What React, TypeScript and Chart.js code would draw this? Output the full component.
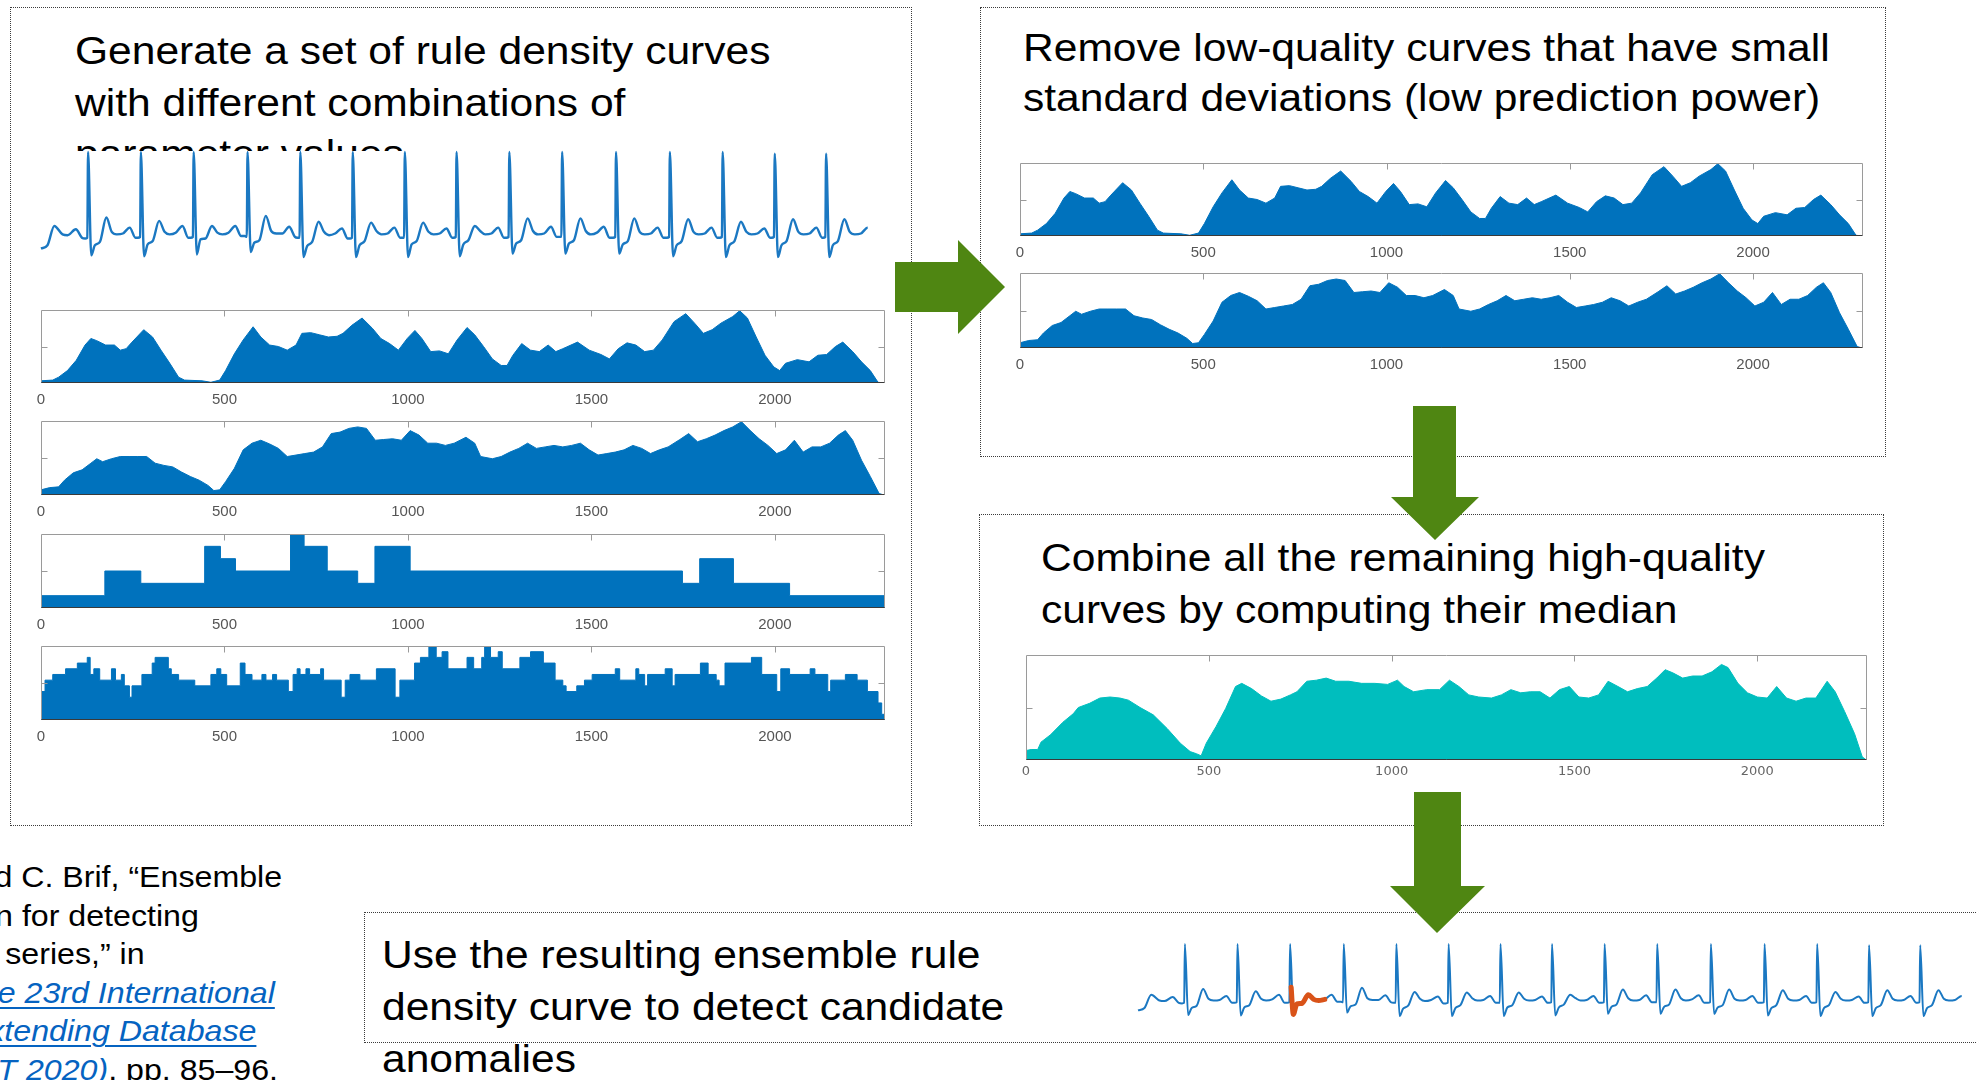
import React, { useEffect, useRef } from "react";
import { Chart, registerables } from "chart.js";

Chart.register(...registerables);

const FONT = '"Liberation Sans", Arial, Helvetica, sans-serif';
const X_MAX = 2300;
const X_TICKS = [0, 500, 1000, 1500, 2000];

// Rule density curve A (top row, also kept after filtering)
const CURVE_A_X = [0, 32, 48, 72, 96, 120, 136, 152, 176, 200, 216, 232, 248, 280, 304, 327, 351, 375, 391, 439, 463, 487, 503, 527, 551, 578, 599, 623, 647, 671, 695, 711, 735, 759, 783, 807, 823, 847, 875, 903, 926, 950, 974, 998, 1019, 1038, 1062, 1086, 1110, 1134, 1161, 1182, 1206, 1230, 1254, 1270, 1286, 1310, 1334, 1358, 1382, 1403, 1422, 1462, 1494, 1526, 1549, 1573, 1597, 1621, 1645, 1669, 1693, 1725, 1757, 1781, 1805, 1829, 1853, 1885, 1904, 1925, 1949, 1973, 1997, 2013, 2029, 2061, 2093, 2117, 2141, 2165, 2185, 2212, 2236, 2260, 2281, 2297];
const CURVE_A_Y = [0.03, 0.04, 0.08, 0.17, 0.31, 0.52, 0.61, 0.58, 0.52, 0.52, 0.45, 0.47, 0.56, 0.73, 0.63, 0.45, 0.27, 0.08, 0.04, 0.03, 0.01, 0.04, 0.17, 0.4, 0.59, 0.77, 0.63, 0.52, 0.5, 0.45, 0.52, 0.68, 0.69, 0.66, 0.63, 0.64, 0.68, 0.79, 0.89, 0.75, 0.61, 0.54, 0.45, 0.61, 0.72, 0.61, 0.43, 0.44, 0.4, 0.59, 0.76, 0.66, 0.5, 0.33, 0.24, 0.24, 0.38, 0.54, 0.45, 0.43, 0.52, 0.43, 0.47, 0.56, 0.45, 0.39, 0.33, 0.47, 0.55, 0.52, 0.43, 0.45, 0.59, 0.84, 0.95, 0.82, 0.68, 0.73, 0.82, 0.91, 0.99, 0.89, 0.63, 0.38, 0.22, 0.17, 0.27, 0.32, 0.29, 0.38, 0.39, 0.5, 0.56, 0.43, 0.29, 0.17, 0.01, 0];

// Rule density curve B (second row, also kept after filtering)
const CURVE_B_X = [0, 24, 48, 64, 88, 112, 136, 152, 168, 192, 216, 240, 264, 288, 311, 335, 359, 383, 407, 431, 455, 471, 487, 503, 527, 551, 575, 599, 623, 647, 671, 695, 719, 743, 767, 791, 815, 839, 863, 887, 911, 934, 958, 982, 1006, 1030, 1054, 1078, 1102, 1126, 1158, 1182, 1198, 1230, 1254, 1278, 1302, 1326, 1350, 1374, 1398, 1422, 1446, 1470, 1494, 1518, 1542, 1565, 1589, 1613, 1637, 1661, 1685, 1709, 1741, 1765, 1789, 1813, 1837, 1861, 1885, 1909, 1933, 1957, 1981, 2005, 2029, 2053, 2077, 2101, 2125, 2149, 2173, 2192, 2212, 2236, 2260, 2284, 2297];
const CURVE_B_Y = [0.07, 0.1, 0.11, 0.2, 0.3, 0.34, 0.43, 0.49, 0.45, 0.49, 0.52, 0.52, 0.52, 0.52, 0.43, 0.4, 0.38, 0.31, 0.25, 0.2, 0.13, 0.06, 0.07, 0.18, 0.36, 0.61, 0.7, 0.74, 0.69, 0.63, 0.52, 0.54, 0.56, 0.58, 0.65, 0.83, 0.85, 0.9, 0.92, 0.9, 0.74, 0.75, 0.76, 0.74, 0.87, 0.81, 0.7, 0.7, 0.67, 0.7, 0.78, 0.7, 0.52, 0.49, 0.52, 0.58, 0.63, 0.7, 0.63, 0.65, 0.67, 0.65, 0.67, 0.7, 0.61, 0.54, 0.56, 0.58, 0.61, 0.67, 0.63, 0.56, 0.61, 0.65, 0.75, 0.83, 0.72, 0.76, 0.81, 0.87, 0.92, 0.99, 0.87, 0.76, 0.67, 0.56, 0.61, 0.74, 0.58, 0.65, 0.65, 0.7, 0.81, 0.87, 0.74, 0.47, 0.25, 0.02, 0];

// Rule density curve C (coarse, step-wise)
const CURVE_C_X = [0, 174, 272, 446, 489, 530, 680, 717, 780, 863, 910, 1006, 1748, 1795, 1887, 2040, 2300];
const CURVE_C_Y = [1, 3, 2, 5, 4, 3, 6, 5, 3, 2, 5, 3, 2, 4, 2, 1, 1];

// Rule density curve D (fine, step-wise)
const CURVE_D_X = [0, 11, 32, 67, 99, 126, 134, 144, 160, 192, 203, 219, 227, 241, 248, 275, 303, 311, 347, 355, 375, 419, 463, 479, 490, 506, 543, 556, 575, 602, 613, 631, 642, 674, 687, 698, 706, 722, 732, 762, 770, 818, 829, 842, 869, 914, 965, 978, 1018, 1034, 1057, 1077, 1093, 1109, 1161, 1179, 1201, 1209, 1225, 1246, 1257, 1305, 1334, 1369, 1401, 1422, 1431, 1460, 1481, 1502, 1565, 1577, 1621, 1629, 1645, 1653, 1701, 1720, 1728, 1797, 1818, 1840, 1848, 1864, 1936, 1964, 2005, 2016, 2040, 2096, 2109, 2144, 2152, 2192, 2224, 2252, 2281, 2291, 2300];
const CURVE_D_Y = [5, 7, 8, 9, 10, 11, 8, 9, 7, 9, 7, 8, 6, 4, 6, 8, 10, 11, 9, 8, 7, 6, 8, 9, 8, 6, 10, 8, 7, 8, 7, 8, 7, 5, 8, 9, 8, 9, 8, 9, 7, 4, 7, 8, 7, 9, 4, 7, 10, 11, 13, 11, 12, 9, 11, 9, 11, 13, 11, 12, 9, 11, 12, 10, 7, 6, 5, 6, 7, 8, 9, 7, 9, 8, 6, 8, 9, 6, 8, 10, 8, 7, 6, 10, 11, 8, 5, 9, 8, 9, 8, 5, 7, 8, 7, 5, 3, 1, 1];

// Ensemble (median) rule density curve
const MEDIAN_X = [0, 14, 32, 41, 67, 101, 129, 143, 174, 202, 230, 257, 280, 312, 348, 386, 422, 449, 466, 479, 493, 520, 546, 573, 590, 617, 644, 670, 697, 723, 741, 768, 794, 821, 847, 883, 918, 954, 989, 1016, 1034, 1060, 1096, 1131, 1158, 1184, 1211, 1238, 1273, 1300, 1326, 1353, 1379, 1406, 1433, 1459, 1486, 1512, 1539, 1566, 1592, 1619, 1645, 1672, 1699, 1725, 1748, 1769, 1796, 1823, 1849, 1876, 1902, 1920, 1947, 1973, 2000, 2027, 2053, 2080, 2106, 2133, 2160, 2191, 2213, 2239, 2266, 2287, 2298];
const MEDIAN_Y = [0.09, 0.1, 0.1, 0.17, 0.24, 0.36, 0.44, 0.5, 0.54, 0.59, 0.6, 0.59, 0.57, 0.5, 0.43, 0.3, 0.16, 0.08, 0.06, 0.04, 0.16, 0.32, 0.49, 0.7, 0.73, 0.68, 0.61, 0.56, 0.58, 0.62, 0.65, 0.75, 0.76, 0.78, 0.75, 0.75, 0.73, 0.73, 0.72, 0.76, 0.7, 0.65, 0.67, 0.67, 0.76, 0.7, 0.62, 0.6, 0.59, 0.62, 0.67, 0.64, 0.65, 0.65, 0.59, 0.67, 0.7, 0.6, 0.59, 0.62, 0.75, 0.7, 0.65, 0.68, 0.7, 0.78, 0.86, 0.83, 0.78, 0.8, 0.8, 0.84, 0.91, 0.88, 0.73, 0.64, 0.6, 0.59, 0.7, 0.59, 0.56, 0.59, 0.59, 0.75, 0.65, 0.46, 0.25, 0.03, 0];

// ECG recording: lead-in samples, then beats sampled at fixed offsets around each R peak
const ECG_LEAD_T = [0, 18, 37, 60, 74, 97, 114];
const ECG_LEAD_V = [-0.15, -0.11, 0.12, 0.02, 0.01, 0.08, -0.02];
const ECG_OFFSETS = [-8, -2, 0, 9, 19, 33, 51, 66, 80, 97, 116, 132];
const ECG_R_PEAKS = [131, 278, 425, 575, 722, 868, 1013, 1157, 1304, 1451, 1601, 1751, 1898, 2043, 2186];
const ECG_BEATS = [
  [-0.03, -0.02, 1.0, -0.23, -0.11, -0.07, 0.22, 0.05, 0.02, 0.03, 0.1, -0.02],
  [-0.02, -0.01, 1.0, -0.24, -0.1, -0.06, 0.18, 0.05, 0.02, 0.04, 0.12, -0.02],
  [-0.02, -0.01, 1.0, -0.22, -0.04, -0.03, 0.12, 0.04, 0.02, 0.04, 0.12, 0.0],
  [0.0, -0.01, 1.0, -0.19, -0.08, -0.05, 0.24, 0.06, 0.03, 0.03, 0.11, -0.01],
  [-0.02, -0.02, 1.0, -0.25, -0.12, -0.07, 0.17, 0.05, 0.01, 0.03, 0.09, -0.03],
  [-0.03, -0.02, 1.0, -0.25, -0.11, -0.06, 0.16, 0.06, 0.02, 0.03, 0.1, -0.02],
  [-0.02, -0.02, 1.0, -0.25, -0.1, -0.06, 0.16, 0.05, 0.02, 0.03, 0.09, -0.02],
  [-0.02, -0.01, 1.0, -0.24, -0.1, -0.05, 0.12, 0.06, 0.02, 0.03, 0.1, -0.02],
  [-0.02, -0.01, 1.0, -0.21, -0.09, -0.05, 0.21, 0.06, 0.02, 0.03, 0.11, -0.01],
  [-0.01, -0.01, 1.0, -0.21, -0.09, -0.05, 0.21, 0.06, 0.02, 0.04, 0.11, -0.02],
  [-0.02, -0.01, 1.0, -0.21, -0.1, -0.06, 0.21, 0.05, 0.02, 0.03, 0.1, -0.02],
  [-0.02, -0.01, 1.0, -0.24, -0.11, -0.06, 0.2, 0.05, 0.02, 0.03, 0.1, -0.02],
  [-0.02, -0.01, 1.0, -0.25, -0.11, -0.06, 0.17, 0.05, 0.02, 0.03, 0.09, -0.02],
  [-0.02, -0.01, 0.98, -0.25, -0.11, -0.06, 0.2, 0.05, 0.02, 0.03, 0.1, -0.02],
  [-0.02, -0.01, 0.98, -0.25, -0.11, -0.06, 0.2, 0.05, 0.02, 0.03, 0.1, -0.02],
];

// Candidate anomaly flagged by the ensemble curve
const ANOMALY_T = [428, 434, 444, 458, 476, 491, 505, 522];
const ANOMALY_V = [0.25, -0.22, -0.04, -0.03, 0.12, 0.04, 0.02, 0.04];

const BLUE = "#0072BD";
const TEAL = "#00BEBE";
const ECG_BLUE = "#1b78c2";
const ORANGE = "#D95319";
const GREEN = "#4F8612";

function toPoints(xs: number[], ys: number[]) {
  return xs.map((x, i) => ({ x, y: ys[i] }));
}

function ecgPoints() {
  const pts = toPoints(ECG_LEAD_T, ECG_LEAD_V);
  ECG_R_PEAKS.forEach((r, b) => {
    ECG_OFFSETS.forEach((o, k) => pts.push({ x: r + o, y: ECG_BEATS[b][k] }));
  });
  return pts;
}

// Box frame with inward ticks, drawn over the filled area
function framePlugin(tick: number) {
  return {
    id: "axesFrame",
    afterDatasetsDraw(chart: any) {
      const { ctx, chartArea: a } = chart;
      const xs = chart.scales.x;
      const ys = chart.scales.y;
      const L = Math.round(a.left) + 0.5;
      const R = Math.round(a.right) - 0.5;
      const T = Math.round(a.top) + 0.5;
      const B = Math.round(a.bottom) - 0.5;
      ctx.save();
      ctx.lineWidth = 1;
      ctx.strokeStyle = "#9a9a9a";
      ctx.beginPath();
      ctx.moveTo(L, B);
      ctx.lineTo(L, T);
      ctx.lineTo(R, T);
      ctx.lineTo(R, B);
      X_TICKS.forEach((v) => {
        if (v === 0) return;
        const px = Math.round(xs.getPixelForValue(v)) + 0.5;
        ctx.moveTo(px, T);
        ctx.lineTo(px, T + tick);
      });
      const my = Math.round(ys.getPixelForValue((ys.min + ys.max) / 2)) + 0.5;
      ctx.moveTo(L, my);
      ctx.lineTo(L + tick, my);
      ctx.moveTo(R, my);
      ctx.lineTo(R - tick, my);
      ctx.stroke();
      ctx.strokeStyle = "#3a3a3a";
      ctx.beginPath();
      ctx.moveTo(L, B);
      ctx.lineTo(R, B);
      ctx.stroke();
      ctx.restore();
    },
  };
}

type AreaProps = {
  left: number;
  top: number;
  width: number;
  height: number;
  xs: number[];
  ys: number[];
  yMax: number;
  color: string;
  stepped?: boolean;
  tickSize?: number;
  tickFamily?: string;
  tickColor?: string;
  labelPad?: number;
};

function AreaPlot(p: AreaProps) {
  const ref = useRef<HTMLCanvasElement>(null);
  const PL = 30;
  const PR = 24;
  const PT = 6;
  const LH = 30;
  useEffect(() => {
    const chart = new Chart(ref.current as HTMLCanvasElement, {
      type: "line",
      data: {
        datasets: [
          {
            data: toPoints(p.xs, p.ys),
            fill: "origin",
            backgroundColor: p.color,
            borderColor: p.color,
            borderWidth: 1,
            pointRadius: 0,
            tension: 0,
            stepped: p.stepped ? "before" : false,
          } as any,
        ],
      },
      options: {
        animation: false,
        responsive: false,
        devicePixelRatio: 1,
        events: [],
        layout: { padding: { left: PL, right: PR, top: PT, bottom: 0 } },
        plugins: { legend: { display: false }, tooltip: { enabled: false } },
        scales: {
          x: {
            type: "linear",
            min: 0,
            max: X_MAX,
            grid: { display: false, drawTicks: false },
            border: { display: false },
            afterBuildTicks: (s: any) => {
              s.ticks = X_TICKS.map((v) => ({ value: v }));
            },
            afterFit: (s: any) => {
              s.height = LH;
            },
            ticks: {
              autoSkip: false,
              maxRotation: 0,
              padding: p.labelPad ?? 8,
              color: p.tickColor ?? "#555555",
              font: { family: p.tickFamily ?? FONT, size: p.tickSize ?? 15 },
              callback: (v: any) => String(v),
            },
          },
          y: { display: false, min: 0, max: p.yMax },
        },
      } as any,
      plugins: [framePlugin(6)],
    });
    return () => chart.destroy();
  }, []);
  return (
    <canvas
      ref={ref}
      width={p.width + PL + PR}
      height={p.height + PT + LH}
      style={{ position: "absolute", left: p.left - PL, top: p.top - PT }}
    />
  );
}

type EcgProps = {
  left: number;
  top: number;
  width: number;
  height: number;
  yMin: number;
  yMax: number;
  lineWidth: number;
  highlight?: boolean;
};

function EcgPlot(p: EcgProps) {
  const ref = useRef<HTMLCanvasElement>(null);
  const PAD = 5;
  useEffect(() => {
    const datasets: any[] = [];
    if (p.highlight) {
      datasets.push({
        data: toPoints(ANOMALY_T, ANOMALY_V),
        borderColor: ORANGE,
        borderWidth: 5,
        borderCapStyle: "round",
        borderJoinStyle: "round",
        pointRadius: 0,
        fill: false,
        cubicInterpolationMode: "monotone",
        clip: PAD,
        order: 0,
      });
    }
    datasets.push({
      data: ecgPoints(),
      borderColor: ECG_BLUE,
      borderWidth: p.lineWidth,
      borderJoinStyle: "round",
      pointRadius: 0,
      fill: false,
      cubicInterpolationMode: "monotone",
      clip: PAD,
      order: 1,
    });
    const chart = new Chart(ref.current as HTMLCanvasElement, {
      type: "line",
      data: { datasets },
      options: {
        animation: false,
        responsive: false,
        devicePixelRatio: 1,
        events: [],
        layout: { padding: PAD },
        plugins: { legend: { display: false }, tooltip: { enabled: false } },
        scales: {
          x: { type: "linear", display: false, min: 0, max: X_MAX },
          y: { display: false, min: p.yMin, max: p.yMax },
        },
      } as any,
    });
    return () => chart.destroy();
  }, []);
  return (
    <canvas
      ref={ref}
      width={p.width + 2 * PAD}
      height={p.height + 2 * PAD}
      style={{ position: "absolute", left: p.left - PAD, top: p.top - PAD }}
    />
  );
}

function Caption({ left, top, lines, lineHeight = 52 }: { left: number; top: number; lines: string[]; lineHeight?: number }) {
  return (
    <div
      style={{
        position: "absolute",
        left,
        top,
        fontFamily: FONT,
        fontSize: 38,
        lineHeight: `${lineHeight}px`,
        color: "#000",
        whiteSpace: "nowrap",
        transform: "scaleX(1.12)",
        transformOrigin: "left top",
      }}
    >
      {lines.map((l) => (
        <div key={l}>{l}</div>
      ))}
    </div>
  );
}

function DottedBox({ left, top, width, height }: { left: number; top: number; width: number; height: number }) {
  return (
    <div
      style={{
        position: "absolute",
        left,
        top,
        width,
        height,
        boxSizing: "border-box",
        border: "1px dotted #3c3c3c",
      }}
    />
  );
}

const LINK: React.CSSProperties = {
  color: "#0563C1",
  fontStyle: "italic",
  textDecoration: "underline",
  textDecorationThickness: "2px",
  textUnderlineOffset: "4px",
};

const CITATION: { right: number; plain?: string; link?: string; tail?: string }[] = [
  { right: 282, plain: "Y. Gao, J. Lin, and C. Brif, “Ensemble" },
  { right: 199, plain: "grammar induction for detecting" },
  { right: 145, plain: "anomalies in time series,” in" },
  { right: 275, link: "Proceedings of the 23rd International" },
  { right: 256, link: "Conference on Extending Database" },
  { right: 278, link: "Technology (EDBT 2020)", tail: ", pp. 85–96." },
];

function Citation() {
  return (
    <>
      {CITATION.map((c, i) => (
        <div
          key={i}
          style={{
            position: "absolute",
            right: 1977 - c.right,
            top: 858 + i * 38.6,
            fontFamily: FONT,
            fontSize: 29.5,
            lineHeight: "37.5px",
            color: "#000",
            whiteSpace: "nowrap",
            transform: "scaleX(1.09)",
            transformOrigin: "right top",
          }}
        >
          {c.plain}
          {c.link ? <span style={LINK}>{c.link}</span> : null}
          {c.tail}
        </div>
      ))}
    </>
  );
}

function Arrows() {
  return (
    <svg
      width={1977}
      height={1080}
      style={{ position: "absolute", left: 0, top: 0, pointerEvents: "none" }}
    >
      <polygon fill={GREEN} points="895,262 958,262 958,240 1005,287 958,334 958,312 895,312" />
      <polygon fill={GREEN} points="1413,406 1456,406 1456,497 1479,497 1435,540 1391,497 1413,497" />
      <polygon fill={GREEN} points="1414,792 1461,792 1461,886 1485,886 1437,933 1390,886 1414,886" />
    </svg>
  );
}

export default function App() {
  return (
    <div
      style={{
        position: "fixed",
        left: 0,
        top: 0,
        width: 1977,
        height: 1080,
        overflow: "hidden",
        background: "#ffffff",
      }}
    >
      <DottedBox left={10} top={7} width={902} height={819} />
      <DottedBox left={980} top={7} width={906} height={450} />
      <DottedBox left={979} top={514} width={905} height={312} />
      <DottedBox left={364} top={912} width={1700} height={131} />

      <Caption
        left={75}
        top={26}
        lineHeight={51.7}
        lines={["Generate a set of rule density curves", "with different combinations of", "parameter values"]}
      />
      <div style={{ position: "absolute", left: 34, top: 151, width: 842, height: 114, background: "#fff" }} />
      <EcgPlot left={41} top={151} width={826} height={114} yMin={-0.345} yMax={1.012} lineWidth={2.4} />

      <AreaPlot left={41} top={310} width={844} height={73} xs={CURVE_A_X} ys={CURVE_A_Y} yMax={1} color={BLUE} />
      <AreaPlot left={41} top={421} width={844} height={74} xs={CURVE_B_X} ys={CURVE_B_Y} yMax={1} color={BLUE} />
      <AreaPlot left={41} top={534} width={844} height={74} xs={CURVE_C_X} ys={CURVE_C_Y} yMax={6} color={BLUE} stepped />
      <AreaPlot left={41} top={646} width={844} height={74} xs={CURVE_D_X} ys={CURVE_D_Y} yMax={13} color={BLUE} stepped />

      <Caption
        left={1023}
        top={23}
        lineHeight={50}
        lines={["Remove low-quality curves that have small", "standard deviations (low prediction power)"]}
      />
      <AreaPlot left={1020} top={163} width={843} height={73} xs={CURVE_A_X} ys={CURVE_A_Y} yMax={1} color={BLUE} />
      <AreaPlot left={1020} top={273} width={843} height={75} xs={CURVE_B_X} ys={CURVE_B_Y} yMax={1} color={BLUE} />

      <Caption
        left={1041}
        top={532}
        lineHeight={52}
        lines={["Combine all the remaining high-quality", "curves by computing their median"]}
      />
      <AreaPlot
        left={1026}
        top={655}
        width={841}
        height={105}
        xs={MEDIAN_X}
        ys={MEDIAN_Y}
        yMax={1}
        color={TEAL}
        tickSize={13}
        tickFamily='"DejaVu Sans", sans-serif'
        tickColor="#666666"
        labelPad={4}
      />

      <Caption
        left={382}
        top={929}
        lineHeight={52}
        lines={["Use the resulting ensemble rule", "density curve to detect candidate", "anomalies"]}
      />
      <EcgPlot left={1138} top={941} width={823} height={81} yMin={-0.352} yMax={1.052} lineWidth={2} highlight />

      <Citation />
      <Arrows />
    </div>
  );
}
